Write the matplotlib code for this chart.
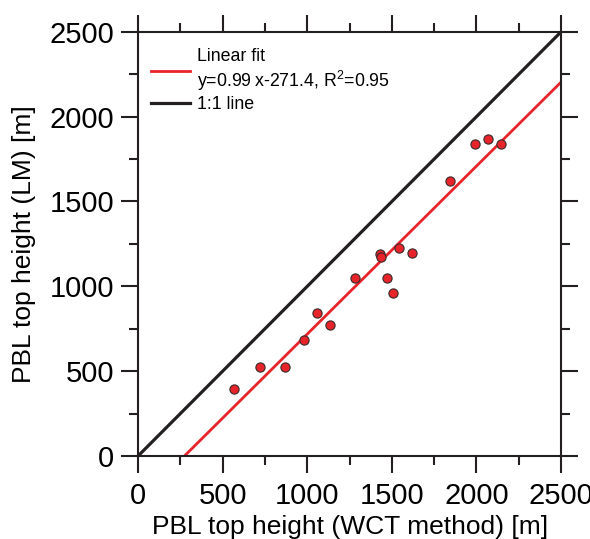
import numpy as np
import matplotlib
matplotlib.use("Agg")
import matplotlib.pyplot as plt

plt.rcParams['font.family'] = ['Liberation Sans', 'DejaVu Sans']
plt.rcParams['mathtext.fontset'] = 'custom'
plt.rcParams['mathtext.rm'] = 'Liberation Sans'
plt.rcParams['mathtext.it'] = 'Liberation Sans'

# PBL top heights: WCT method (x) vs LM (y)
wct = [569, 721, 871, 983, 1056, 1135, 1281, 1432, 1435, 1470, 1505, 1545, 1619, 1844, 1992, 2069, 2143]
lm = [395, 525, 523, 682, 841, 774, 1048, 1191, 1172, 1051, 963, 1228, 1199, 1623, 1841, 1867, 1840]

slope = 0.99
intercept = -271.4
r2 = 0.95
ticks = [0, 500, 1000, 1500, 2000, 2500]

fig = plt.figure(figsize=(5.9, 5.39), dpi=100)
ax = fig.add_axes([0.234, 0.154, 0.717, 0.787])

xx = np.array([0, 2500])
fit_label = f"Linear fit\ny={slope:.2f}\u2009x{intercept:.1f}, R$^2$={r2:.2f}"
ax.plot(xx, slope * xx + intercept, color='#e8242b', lw=2.0, label=fit_label, zorder=2)
ax.plot(xx, xx, color='#231f20', lw=2.3, label='1:1 line', zorder=2)
ax.scatter(wct, lm, s=44, color='#e8242b', edgecolors='#3a2a2a', linewidths=0.8, zorder=3)

ax.set_xlim(0, 2500)
ax.set_ylim(0, 2500)
ax.set_xticks(ticks)
ax.set_yticks(ticks)
ax.set_xticks(np.arange(0, 2501, 250), minor=True)
ax.set_yticks(np.arange(0, 2501, 250), minor=True)

for s in ax.spines.values():
    s.set_linewidth(1.5)
    s.set_color('#231f20')
ax.tick_params(which='major', direction='out', length=12, width=1.5, labelsize=21,
               top=True, right=True, color='#231f20', pad=5)
ax.tick_params(axis='x', which='major', pad=7)
ax.tick_params(which='minor', direction='out', length=6.5, width=1.5,
               top=True, right=True, color='#231f20')

ax.set_xlabel('PBL top height (WCT method) [m]', fontsize=19, labelpad=3)
ax.set_ylabel('PBL top height (LM) [m]', fontsize=19, labelpad=10)

ax.legend(loc='upper left', frameon=False, fontsize=12.8, handlelength=2.2,
          handletextpad=0.4, labelspacing=0.15, borderaxespad=0.3,
          bbox_to_anchor=(0.0, 0.99))

fig.savefig('out.png', dpi=100)
